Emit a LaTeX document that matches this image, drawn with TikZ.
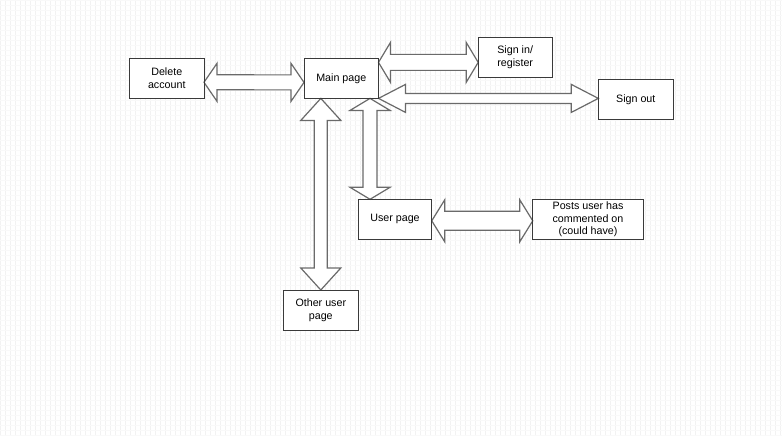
\documentclass[tikz,border=0pt]{standalone}
\usepackage{fontspec}
\setmainfont{Liberation Sans}
\usetikzlibrary{calc}

% double-headed block arrow between two points:
% #1 start, #2 end, #3 shaft half-width, #4 head half-width, #5 head length
\newcommand\dblblock[5]{%
  \path (#1) coordinate (ba-s) (#2) coordinate (ba-e);
  \path ($(ba-s)!#5!(ba-e)$) coordinate (ba-hs)
        ($(ba-e)!#5!(ba-s)$) coordinate (ba-he);
  \draw[blockarrow] (ba-s)
    -- ($(ba-hs)!#4!90:(ba-e)$) -- ($(ba-hs)!#3!90:(ba-e)$)
    -- ($(ba-he)!#3!-90:(ba-s)$) -- ($(ba-he)!#4!-90:(ba-s)$)
    -- (ba-e)
    -- ($(ba-he)!#4!90:(ba-s)$) -- ($(ba-he)!#3!90:(ba-s)$)
    -- ($(ba-hs)!#3!-90:(ba-e)$) -- ($(ba-hs)!#4!-90:(ba-e)$)
    -- cycle;
}

\definecolor{boxline}{HTML}{3A3A3A}
\definecolor{arrowline}{HTML}{6A6A6A}

\tikzset{
  page/.style={draw=boxline, line width=0.9pt, fill=white, align=center,
    inner sep=0pt, outer sep=0pt, minimum height=40pt,
    font=\fontsize{10.7}{12.6}\selectfont},
  blockarrow/.style={draw=arrowline, line width=1.2pt, fill=white, line join=miter},
}

\begin{document}
\begin{tikzpicture}[x=1pt, y=-1pt]
  \useasboundingbox (0,0) rectangle (782,436);
  \fill[white] (0,0) rectangle (782,436);
  % faint ruled background
  \foreach \gx in {0,5,...,780} \draw[black!5, line width=0.5pt] (\gx,0) -- (\gx,436);
  \foreach \gy in {0,5,...,435} \draw[black!2.5, line width=0.5pt] (0,\gy) -- (782,\gy);

  % pages
  \node[page, minimum width=74.5pt]  (del)   at (166.75,78.3) {Delete\\account};
  \node[page, minimum width=74.5pt]  (main)  at (341.25,78.4) {Main page};
  \node[page, minimum width=74pt]    (sign)  at (515.2,57.3)  {Sign in/\\register};
  \node[page, minimum width=75pt]    (out)   at (635.8,99.3)  {Sign out};
  \node[page, minimum width=73.5pt]  (user)  at (395,219.3)   {User page};
  \node[page, minimum width=110.5pt] (posts) at (588,219.3)   {Posts user has\\commented on\\(could have)};
  \node[page, minimum width=75pt]    (other) at (320.8,310)   {Other user\\page};

  % connectors
  \dblblock{[yshift=-4pt]del.east}{[yshift=-4pt]main.west}{7.5pt}{19pt}{13pt}
  \dblblock{[yshift=16pt]main.east}{[yshift=16pt]main.east -| sign.west}{8pt}{20pt}{12pt}
  \dblblock{main.south east}{main.south east -| out.west}{5pt}{14pt}{27pt}
  \dblblock{[xshift=28.75pt]main.south}{[xshift=28.75pt]main.south |- user.north}{7pt}{20pt}{12pt}
  \dblblock{other.north |- main.south}{other.north}{6.5pt}{20pt}{22pt}
  \dblblock{[yshift=-1.5pt]user.east}{[yshift=-1.5pt]posts.west}{9.5pt}{21pt}{13pt}

  % page borders drawn again over the arrow tips
  \foreach \n in {del,main,sign,out,user,posts,other}
    \draw[boxline, line width=0.9pt] (\n.south west) rectangle (\n.north east);
\end{tikzpicture}
\end{document}
